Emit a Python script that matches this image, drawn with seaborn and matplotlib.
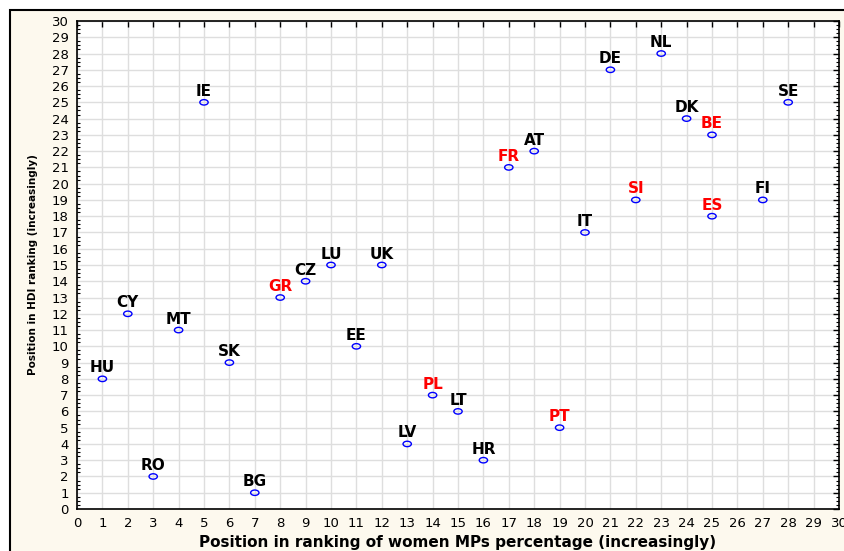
import matplotlib
matplotlib.use("Agg")
import matplotlib.pyplot as plt
import seaborn as sns
import pandas as pd
from matplotlib.patches import Rectangle
from matplotlib.path import Path
from matplotlib.transforms import Affine2D
from matplotlib.ticker import MultipleLocator

countries = ["HU", "CY", "RO", "MT", "IE", "SK", "BG", "GR", "CZ", "LU", "EE", "UK", "LV", "PL",
             "LT", "HR", "FR", "AT", "PT", "IT", "DE", "SI", "NL", "DK", "BE", "ES", "FI", "SE"]
women_mps_rank = [1, 2, 3, 4, 5, 6, 7, 8, 9, 10, 11, 12, 13, 14,
                  15, 16, 17, 18, 19, 20, 21, 22, 23, 24, 25, 25, 27, 28]
hdi_rank = [8, 12, 2, 11, 25, 9, 1, 13, 14, 15, 10, 15, 4, 7,
            6, 3, 21, 22, 5, 17, 27, 19, 28, 24, 23, 18, 19, 25]
highlighted = ["GR", "PL", "FR", "PT", "SI", "BE", "ES"]

df = pd.DataFrame({"country": countries, "x": women_mps_rank, "y": hdi_rank})

sns.set_style("white")
plt.rcParams["font.family"] = ["DejaVu Sans"]
plt.rcParams["text.color"] = "black"
plt.rcParams["axes.labelcolor"] = "black"
plt.rcParams["xtick.color"] = "black"
plt.rcParams["ytick.color"] = "black"

fig = plt.figure(figsize=(8.44, 5.51), dpi=100, facecolor="white")
# cream panel with black frame
fig.patches.append(Rectangle((10 / 844, -0.1), 1.2, (541 / 551) + 0.1,
                             transform=fig.transFigure, facecolor="#fdf9ee",
                             edgecolor="black", linewidth=1.5, zorder=-5))

ax = fig.add_axes([77 / 844, 1 - 509 / 551, 762 / 844, 488 / 551])
ax.set_zorder(1)
ax.set_facecolor("white")

ellipse = Path.unit_circle().transformed(Affine2D().scale(1.0, 0.65))
sns.scatterplot(data=df, x="x", y="y", ax=ax, marker=ellipse, s=36,
                facecolor="none", edgecolor="blue", linewidth=1, zorder=3)

for _, r in df.iterrows():
    col = "red" if r["country"] in highlighted else "black"
    ax.annotate(r["country"], (r["x"], r["y"]), xytext=(0, 2.5), textcoords="offset points",
                ha="center", va="bottom", fontsize=11, fontweight="bold", color=col)

ax.set_xlim(0, 30)
ax.set_ylim(0, 30)
ax.xaxis.set_major_locator(MultipleLocator(1))
ax.yaxis.set_major_locator(MultipleLocator(1))
ax.yaxis.set_minor_locator(MultipleLocator(0.25))
ax.grid(True, which="major", color="#dedede", linewidth=1)
ax.tick_params(axis="both", which="major", direction="in", length=4, width=1,
               top=True, right=True, labelsize=9.5, pad=6)
ax.tick_params(axis="y", which="minor", direction="in", length=2, width=0.8, left=True, right=True)
for s in ax.spines.values():
    s.set_color("black")
    s.set_linewidth(1.2)

ax.set_xlabel("Position in ranking of women MPs percentage (increasingly)",
              fontsize=11, fontweight="bold", labelpad=3)
ax.set_ylabel("Position in HDI ranking (increasingly)", fontsize=7.5,
              fontweight="bold", labelpad=10)

fig.savefig("out.png", dpi=100, facecolor="white")
